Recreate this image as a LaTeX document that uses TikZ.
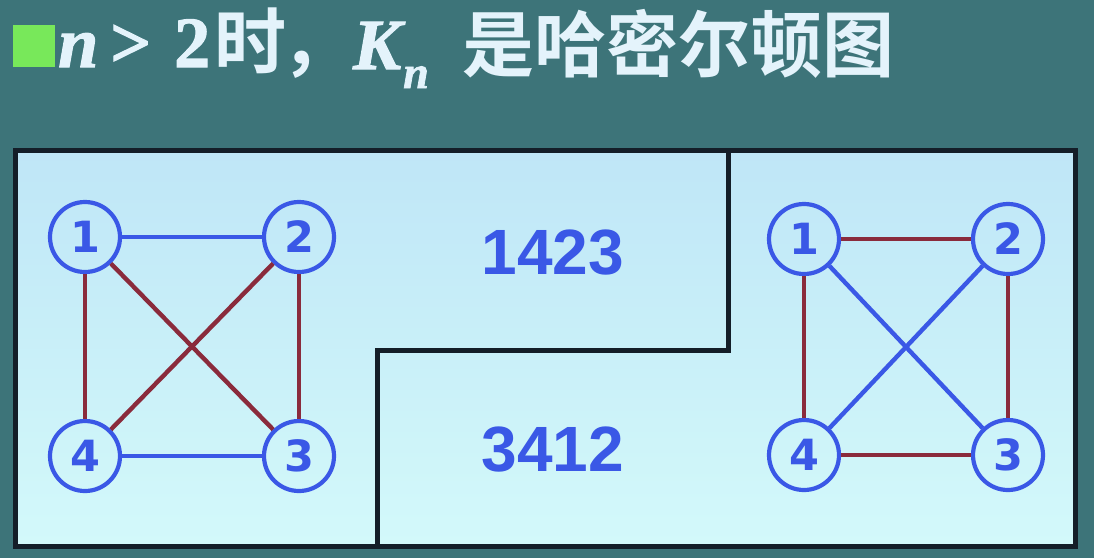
\documentclass[tikz,border=0pt]{standalone}
\usepackage{fontspec}
\setmainfont{Liberation Serif}
\newfontfamily\ttlf{Liberation Serif}[UprightFont=* Bold, ItalicFont=* Bold Italic, UprightFeatures={FakeBold=1.6}, ItalicFeatures={FakeBold=1.6}]
\newfontfamily\cjk{Noto Sans CJK SC}[UprightFont=* Bold]
\newfontfamily\numf{Liberation Sans}[UprightFont=* Bold]
\newfontfamily\labf{DejaVu Sans}[UprightFont=* Bold]
\definecolor{bg}{HTML}{3D7479}
\definecolor{titlec}{HTML}{E4F3FB}
\definecolor{sq}{HTML}{78E85A}
\definecolor{paneltop}{HTML}{BFE6F7}
\definecolor{panelbot}{HTML}{D3F9FA}
\definecolor{frame}{HTML}{141E28}
\definecolor{bl}{HTML}{3A58E6}
\definecolor{rd}{HTML}{8A2B3C}
\begin{document}
\begin{tikzpicture}[x=1pt,y=-1pt,
  vtx/.style={circle,draw=bl,line width=4.2pt,minimum size=70pt,inner sep=0pt,
    font=\labf\fontsize{43}{43}\selectfont,text=bl},
  be/.style={draw=bl,line width=4.4pt},
  re/.style={draw=rd,line width=4.4pt},
  ttl/.style={anchor=base west,inner sep=0pt,text=titlec,font=\ttlf\fontsize{72}{72}\selectfont},
  ttlc/.style={ttl,font=\cjk\fontsize{72}{72}\selectfont},
  numtxt/.style={inner sep=0pt,text=bl,font=\numf\fontsize{64}{64}\selectfont}]
\fill[bg] (0,0) rectangle (1094,558);
\useasboundingbox (0,0) rectangle (1094,558);
% title
\fill[sq] (13,25) rectangle (55,67);
\node[ttl] (t1) at (58,67) {\itshape n};
\node[ttl] (t2) at (110,67) {>};
\node[ttl] (t3) at (174,67) {2};
\node[ttlc] (t4) at (214,68) {时};
\node[ttlc] (t4b) at (281,68) {\makebox[40pt][l]{，}};
\node[ttl] (t5) at (353,69) {\itshape K};
\node[ttl,font=\ttlf\fontsize{46}{46}\selectfont] (t6) at (403,88) {\itshape n};
\node[ttlc] (t7) at (462,71) {是哈密尔顿图};
% panel
\shade[top color=paneltop,bottom color=panelbot] (15,150) rectangle (1075,546);
\draw[frame,line width=5pt] (15,150) rectangle (1075,546);
\draw[frame,line width=5pt] (728,150) -- (728,350) -- (377,350) -- (377,546);
% numbers
\node[numtxt] (s1) at (553,253) {1423};
\node[numtxt] (s2) at (553,450) {3412};
% left graph
\node[vtx] (a1) at (85,237) {1};
\node[vtx] (a2) at (299,237) {2};
\node[vtx] (a3) at (299,456) {3};
\node[vtx] (a4) at (85,456) {4};
\draw[be] (a1) -- (a2);
\draw[be] (a4) -- (a3);
\draw[re] (a1) -- (a4);
\draw[re] (a2) -- (a3);
\draw[re] (a1) -- (a3);
\draw[re] (a2) -- (a4);
% right graph
\node[vtx] (b1) at (804,239) {1};
\node[vtx] (b2) at (1008,239) {2};
\node[vtx] (b3) at (1008,455) {3};
\node[vtx] (b4) at (804,455) {4};
\draw[re] (b1) -- (b2);
\draw[re] (b4) -- (b3);
\draw[re] (b1) -- (b4);
\draw[re] (b2) -- (b3);
\draw[be] (b1) -- (b3);
\draw[be] (b2) -- (b4);
\end{tikzpicture}
\end{document}
